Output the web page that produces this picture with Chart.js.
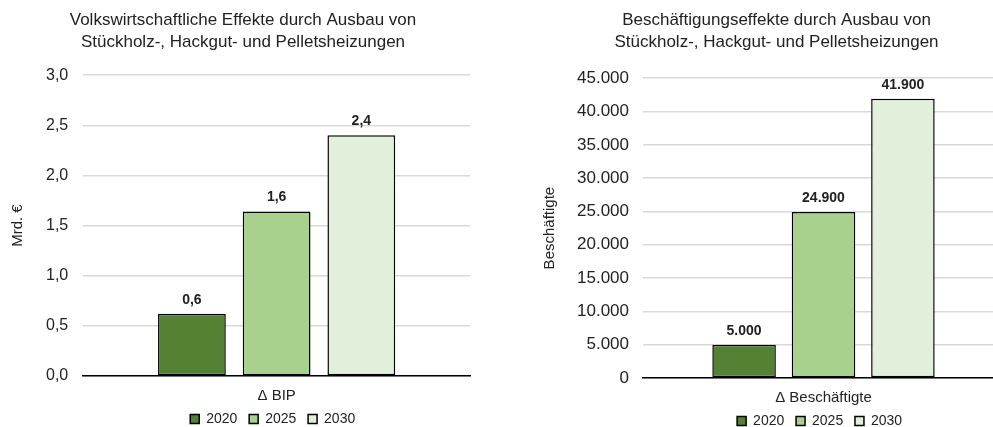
<!DOCTYPE html>
<html>
<head>
<meta charset="utf-8">
<script src="https://cdn.jsdelivr.net/npm/chart.js@4/dist/chart.umd.min.js"></script>
<style>
  html, body { margin: 0; padding: 0; background: #fff; overflow: hidden; width: 993px; height: 427px; }
  .box { position: absolute; top: 0; }
  #b1 { left: 0; width: 486px; height: 436px; }
  #b2 { left: 530px; width: 493px; height: 438px; }
</style>
</head>
<body>
<div class="box" id="b1"><canvas id="c1"></canvas></div>
<div class="box" id="b2"><canvas id="c2"></canvas></div>
<script>
// ---- data ----
const years = ['2020', '2025', '2030'];
const colors = ['#548235', '#a9d18e', '#e2efda'];
const bipCategory = ['\u0394 BIP'];
const bipValues = [0.62, 1.64, 2.40];
const bipTicks = { min: 0, max: 3, step: 0.5 };
const jobsCategory = ['\u0394 Besch\u00e4ftigte'];
const jobsValues = [5000, 24900, 41900];
const jobsTicks = { min: 0, max: 45000, step: 5000 };

const FONT = "'Liberation Sans', Arial, sans-serif";
const TXT = '#222';

function fmtDec(v) { return Number(v).toFixed(1).replace('.', ','); }
function fmtThousands(v) {
  const s = Math.round(v).toString();
  return s.replace(/\B(?=(\d{3})+(?!\d))/g, '.');
}

const valueLabels = {
  id: 'valueLabels',
  afterDatasetsDraw(chart, args, opts) {
    const ctx = chart.ctx;
    ctx.save();
    ctx.font = 'bold 14px ' + FONT;
    ctx.fillStyle = TXT;
    ctx.textAlign = 'center';
    ctx.textBaseline = 'bottom';
    chart.data.datasets.forEach((ds, i) => {
      const meta = chart.getDatasetMeta(i);
      meta.data.forEach((bar, j) => {
        ctx.fillText(opts.fmt(ds.data[j]), bar.x, bar.y - 7);
      });
    });
    ctx.restore();
  }
};

function legendItems(chart) {
  const items = Chart.defaults.plugins.legend.labels.generateLabels(chart);
  items.forEach((it) => { it.text = it.text + '  '; it.lineWidth = 1.5; });
  return items;
}

function makeChart(id, category, values, ticks, fmt, text, cfg) {
  const datasets = years.map((y, i) => ({
    label: y,
    data: [values[i]],
    backgroundColor: colors[i],
    borderColor: '#000',
    borderWidth: 1.5,
    borderSkipped: false
  }));
  return new Chart(document.getElementById(id), {
    type: 'bar',
    data: { labels: category, datasets },
    plugins: [valueLabels],
    options: {
      responsive: true,
      maintainAspectRatio: false,
      animation: false,
      datasets: { bar: { categoryPercentage: cfg.catPct, barPercentage: 0.8 } },
      layout: { padding: cfg.pad },
      plugins: {
        valueLabels: { fmt },
        tooltip: { enabled: false },
        title: {
          display: true,
          text: text.title,
          color: TXT,
          font: { family: FONT, size: 17, weight: 'normal', lineHeight: 1.3 },
          padding: { top: 9, bottom: cfg.titleBottom }
        },
        legend: {
          position: 'bottom',
          fullSize: false,
          labels: {
            color: TXT,
            font: { family: FONT, size: 14 },
            boxWidth: 9,
            boxHeight: 9,
            padding: 4,
            generateLabels: legendItems
          }
        }
      },
      scales: {
        x: {
          grid: { display: false },
          border: { display: true, color: '#000', width: 1.5 },
          ticks: { color: TXT, font: { family: FONT, size: 15 }, padding: 3 }
        },
        y: {
          min: ticks.min,
          max: ticks.max,
          grid: { color: '#d9d9d9', lineWidth: 1.5, drawTicks: false },
          border: { display: false },
          ticks: {
            stepSize: ticks.step,
            color: TXT,
            font: { family: FONT, size: cfg.tickSize },
            padding: cfg.tickPad,
            callback: (v) => fmt(v)
          },
          title: {
            display: true,
            text: text.axis,
            color: TXT,
            font: { family: FONT, size: 15 },
            padding: { top: cfg.yTitleTop, bottom: 4 }
          }
        }
      }
    }
  });
}

makeChart('c1', bipCategory, bipValues, bipTicks, fmtDec,
  { title: ['Volkswirtschaftliche Effekte durch Ausbau von', 'St\u00fcckholz-, Hackgut- und Pelletsheizungen'], axis: 'Mrd. \u20ac' },
  { catPct: 0.657, pad: { left: 16, right: 16, top: 0, bottom: 0 }, titleBottom: 22, tickSize: 16, tickPad: 15, yTitleTop: -7 });

makeChart('c2', jobsCategory, jobsValues, jobsTicks, fmtThousands,
  { title: ['Besch\u00e4ftigungseffekte durch Ausbau von', 'St\u00fcckholz-, Hackgut- und Pelletsheizungen'], axis: 'Besch\u00e4ftigte' },
  { catPct: 0.66, pad: { left: 19, right: 19, top: 0, bottom: 0 }, titleBottom: 25, tickSize: 17, tickPad: 14, yTitleTop: -8 });
</script>
</body>
</html>
